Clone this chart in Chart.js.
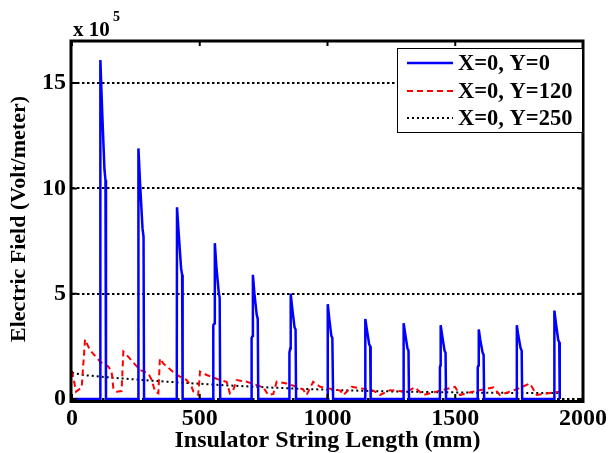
<!DOCTYPE html>
<html>
<head>
<meta charset="utf-8">
<script src="https://cdn.jsdelivr.net/npm/chart.js@4.4.1/dist/chart.umd.min.js"></script>
<style>
    html, body { margin: 0; padding: 0; background: #fff; }
</style>
</head>
<body>
<canvas id="chart" width="615" height="453"></canvas>
<script>
// ── Data (field values in units of 1e5 V/m) ────────────────
const LABELS = ['X=0, Y=0', 'X=0, Y=120', 'X=0, Y=250'];
const X_TITLE = 'Insulator String Length (mm)';
const Y_TITLE = 'Electric Field (Volt/meter)';

const X_TICKS = [0, 500, 1000, 1500, 2000];
const Y_TICKS = [0, 5, 10, 15];

const blueX = [
    0,
    110, 111, 118, 127, 131, 133,
    259, 260, 267, 276, 280, 282,
    410, 411, 418, 427, 431, 433,
    553, 553, 558, 559, 565, 574, 578, 580,
    703, 703, 707, 708, 714, 723, 727, 729,
    851, 851, 854, 856, 862, 871, 875, 877,
    1000, 1001, 1007, 1015, 1019, 1022,
    1147, 1148, 1154, 1163, 1167, 1169,
    1297, 1298, 1304, 1313, 1317, 1319,
    1440, 1440, 1442, 1443, 1449, 1458, 1462, 1464,
    1588, 1588, 1591, 1592, 1598, 1607, 1611, 1613,
    1740, 1741, 1747, 1756, 1760, 1762,
    1887, 1888, 1894, 1903, 1907, 1909,
    1910
];
const blueY = [
    0,
    0, 16.1, 13.7, 10.9, 10.4, 0,
    0, 11.9, 10.1, 8.1, 7.7, 0,
    0, 9.1, 7.8, 6.2, 5.9, 0,
    0, 3.5, 3.6, 7.4, 6.3, 5.1, 4.8, 0,
    0, 2.9, 3.0, 5.9, 5.0, 4.0, 3.8, 0,
    0, 2.2, 2.4, 5.0, 4.3, 3.4, 3.3, 0,
    0, 4.5, 3.8, 3.0, 2.9, 0,
    0, 3.8, 3.3, 2.6, 2.5, 0,
    0, 3.6, 3.1, 2.4, 2.3, 0,
    0, 1.5, 1.6, 3.5, 3.0, 2.3, 2.2, 0,
    0, 1.5, 1.6, 3.3, 2.8, 2.2, 2.1, 0,
    0, 3.5, 3.0, 2.4, 2.3, 0,
    0, 4.2, 3.6, 2.8, 2.7, 0,
    0
];

const redX = [
    0, 16, 38, 51, 70, 110, 142, 155, 162, 175, 194,
    201, 214, 266, 299, 312, 325, 338,
    344, 357, 410, 449, 468, 475, 494,
    501, 527, 579, 605, 618, 631,
    644, 684, 723, 749, 768, 788,
    801, 840, 879, 905, 918,
    944, 971, 997, 1023, 1050, 1062,
    1095, 1153, 1180, 1205,
    1245, 1310, 1342, 1375,
    1427, 1499, 1519,
    1570, 1649, 1675,
    1740, 1792, 1819, 1910
];
const redY = [
    1.33, 0.35, 0.55, 2.83, 2.33, 1.77, 1.54, 1.30, 0.50, 0.35, 0.38,
    2.25, 2.09, 1.38, 1.22, 0.90, 0.35, 0.27,
    1.93, 1.69, 1.14, 0.90, 0.58, 0.35, 0.19,
    1.30, 1.14, 0.90, 0.82, 0.27, 0.42,
    0.90, 0.82, 0.66, 0.55, 0.19, 0.24,
    0.82, 0.74, 0.58, 0.45, 0.19,
    0.82, 0.58, 0.51, 0.46, 0.40, 0.19,
    0.58, 0.46, 0.40, 0.19,
    0.42, 0.35, 0.55, 0.19,
    0.35, 0.58, 0.19,
    0.35, 0.55, 0.19,
    0.46, 0.74, 0.19, 0.35
];

const blackX = [0, 50, 150, 300, 450, 600, 750, 900, 1050, 1200, 1400, 1600, 1800, 1910];
const blackY = [1.25, 1.13, 1.02, 0.88, 0.76, 0.65, 0.56, 0.48, 0.42, 0.37, 0.33, 0.30, 0.28, 0.28];

const FONT = "'Liberation Serif', 'Times New Roman', serif";

const toPoints = (xs, ys) => xs.map((x, i) => ({ x, y: ys[i] }));

// ── Frame, inner ticks, titles, legend, exponent ───────────
const decorPlugin = {
    id: 'decor',
    afterDatasetsDraw(chart) {
        const { ctx, chartArea: a, scales } = chart;
        ctx.save();
        ctx.strokeStyle = '#000';
        ctx.lineWidth = 3;
        ctx.strokeRect(a.left - 1, a.top, a.right - a.left + 1, a.bottom - a.top + 2.5);

        // inward ticks on all four sides
        ctx.lineWidth = 2;
        ctx.beginPath();
        X_TICKS.forEach(v => {
            const px = scales.x.getPixelForValue(v);
            ctx.moveTo(px, a.bottom); ctx.lineTo(px, a.bottom - 5);
            ctx.moveTo(px, a.top);    ctx.lineTo(px, a.top + 5);
        });
        Y_TICKS.forEach(v => {
            const py = scales.y.getPixelForValue(v);
            ctx.moveTo(a.left, py);  ctx.lineTo(a.left + 5, py);
            ctx.moveTo(a.right, py); ctx.lineTo(a.right - 5, py);
        });
        ctx.stroke();

        // axis titles
        ctx.fillStyle = '#000';
        ctx.textAlign = 'center';
        ctx.textBaseline = 'alphabetic';
        ctx.font = `bold 24px ${FONT}`;
        ctx.fillText(X_TITLE, (a.left + a.right) / 2, 447);
        ctx.save();
        ctx.translate(25, 219);
        ctx.rotate(-Math.PI / 2);
        ctx.font = `bold 22px ${FONT}`;
        ctx.fillText(Y_TITLE, 0, 0);
        ctx.restore();

        // legend
        const box = { x: 397, y: 48, w: a.right - 397, h: 85 };
        ctx.fillStyle = '#fff';
        ctx.fillRect(box.x, box.y, box.w, box.h);
        ctx.lineWidth = 1;
        ctx.strokeRect(box.x + 0.5, box.y + 0.5, box.w - 1, box.h - 1);
        const rows = [63, 91, 118];
        ctx.textAlign = 'left';
        chart.data.datasets.forEach((ds, i) => {
            ctx.save();
            ctx.strokeStyle = ds.borderColor;
            ctx.lineWidth = ds.borderWidth;
            ctx.setLineDash(ds.borderDash || []);
            ctx.beginPath();
            ctx.moveTo(407, rows[i]);
            ctx.lineTo(453, rows[i]);
            ctx.stroke();
            ctx.restore();
            ctx.fillStyle = '#000';
            ctx.font = `bold 22.5px ${FONT}`;
            ctx.textBaseline = 'middle';
            ctx.fillText(ds.label, 458, rows[i] + 1);
        });

        // exponent label
        ctx.fillStyle = '#000';
        ctx.textBaseline = 'alphabetic';
        ctx.font = `bold 21px ${FONT}`;
        ctx.fillText('x 10', 73, 36);
        ctx.font = `bold 14px ${FONT}`;
        ctx.fillText('5', 113, 21);
        ctx.restore();
    }
};

new Chart(document.getElementById('chart'), {
    type: 'line',
    data: {
        datasets: [
            {
                label: LABELS[0],
                data: toPoints(blueX, blueY),
                borderColor: '#0000FF',
                borderWidth: 2.5,
                pointRadius: 0,
                tension: 0,
                clip: false,
            },
            {
                label: LABELS[1],
                data: toPoints(redX, redY),
                borderColor: '#FF0000',
                borderWidth: 2,
                borderDash: [6, 4],
                pointRadius: 0,
                tension: 0,
                clip: false,
            },
            {
                label: LABELS[2],
                data: toPoints(blackX, blackY),
                borderColor: '#000000',
                borderWidth: 2,
                borderDash: [2, 3],
                pointRadius: 0,
                tension: 0,
                clip: false,
            }
        ]
    },
    options: {
        responsive: false,
        animation: false,
        layout: { padding: { top: 41, right: 32, left: 0, bottom: 0 } },
        plugins: {
            legend: { display: false },
            tooltip: { enabled: false }
        },
        scales: {
            x: {
                type: 'linear',
                min: 0, max: 2000,
                afterBuildTicks: s => { s.ticks = X_TICKS.map(v => ({ value: v })); },
                afterFit: s => { s.height = 54; },
                grid: { display: false, drawTicks: false },
                border: { display: false },
                ticks: {
                    color: '#000', padding: 5,
                    maxRotation: 0,
                    callback: v => String(v),
                    font: { family: FONT, size: 24, weight: 'bold' }
                }
            },
            y: {
                type: 'linear',
                min: 0, max: 17,
                afterBuildTicks: s => { s.ticks = Y_TICKS.map(v => ({ value: v })); },
                afterFit: s => { s.width = 72; },
                grid: { color: '#000', lineWidth: 2, drawTicks: false },
                border: { display: false, dash: [2.5, 2.5] },
                ticks: {
                    color: '#000', padding: 6,
                    callback: v => String(v),
                    font: { family: FONT, size: 24, weight: 'bold' }
                }
            }
        }
    },
    plugins: [decorPlugin]
});
</script>
</body>
</html>
